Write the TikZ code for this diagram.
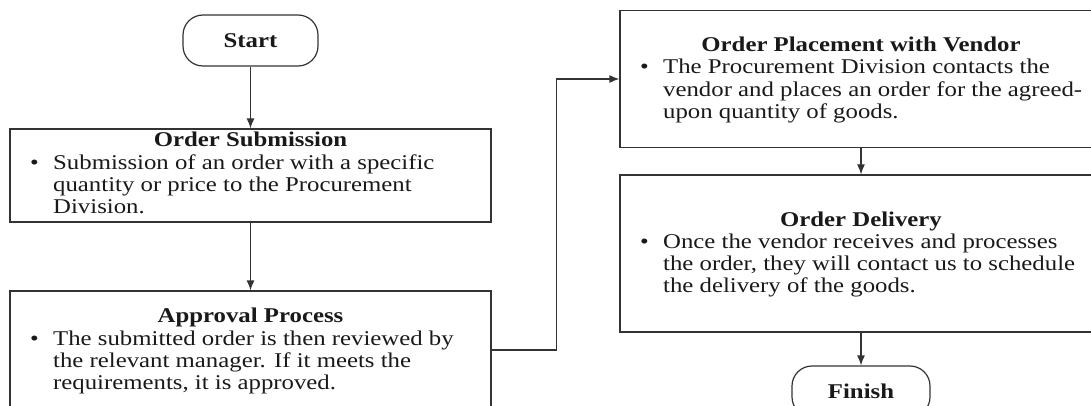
\documentclass[tikz,border=0pt]{standalone}
\usepackage{fontspec}
\setmainfont[FakeStretch=1.18]{Liberation Serif}
\usetikzlibrary{arrows.meta}
\usetikzlibrary{positioning}

\newcommand{\bulletpoint}[1]{\begin{tabular}[t]{@{}p{23pt}@{}l@{}}\textbullet & #1\end{tabular}}

\begin{document}
\begin{tikzpicture}[x=1pt, y=-1pt,
    every node/.style={font=\fontsize{21}{22.3}\selectfont, text=black!90},
    terminal/.style={draw=black!80, line width=1.2pt, rounded corners=20pt,
      minimum width=135pt, minimum height=51pt, inner sep=0pt,
      font=\fontsize{21}{22.3}\selectfont\bfseries},
    process/.style={draw=black!80, line width=1.2pt, rectangle, inner sep=0pt},
    heading/.style={anchor=base, inner sep=0pt,
      font=\fontsize{21}{22.3}\selectfont\bfseries},
    bullets/.style={anchor=base west, inner sep=0pt},
    arrow/.style={line width=1.2pt, draw=black!80, -{Latex[length=10pt,width=8pt]}},
    post/.style={arrow}
  ]
  \useasboundingbox (0,0) rectangle (1091,406);
  \clip (0,0) rectangle (1091,406);

  \node[terminal] (start) at (250.5,40.5) {Start};
  \node[process, minimum width=481pt, minimum height=93pt] (submission) at (250.5,175.5) {};
  \node[process, minimum width=481pt, minimum height=118pt] (approval) at (250.5,350) {};
  \node[process, minimum width=482pt, minimum height=137pt] (placement) at (861,79) {};
  \node[process, minimum width=482pt, minimum height=157pt] (delivery) at (861,253.5) {};
  \node[terminal, minimum width=138pt] (finish) at (861,391.5) {Finish};

  \node[heading] (submissiontitle) at (250.5,147) {Order Submission};
  \node[bullets] (submissiontext) at (30,169) {\bulletpoint{Submission of an order with a specific\\
    & quantity or price to the Procurement\\ & Division.}};

  \node[heading] (approvaltitle) at (250.5,322) {Approval Process};
  \node[bullets] (approvaltext) at (30,345) {\bulletpoint{The submitted order is then reviewed by\\
    & the relevant manager. If it meets the\\ & requirements, it is approved.}};

  \node[heading] (placementtitle) at (861,52) {Order Placement with Vendor};
  \node[bullets] (placementtext) at (640,74) {\bulletpoint{The Procurement Division contacts the\\
    & vendor and places an order for the agreed-\\ & upon quantity of goods.}};

  \node[heading] (deliverytitle) at (861,226) {Order Delivery};
  \node[bullets] (deliverytext) at (640,248) {\bulletpoint{Once the vendor receives and processes\\
    & the order, they will contact us to schedule\\ & the delivery of the goods.}};

  \draw[post] (start) -- (submission);
  \draw[post] (submission) -- (approval);
  \draw[post] (approval.east) -- ++(65,0) |- (placement.west);
  \draw[post] (placement) -- (delivery);
  \draw[post] (delivery) -- (finish);
\end{tikzpicture}
\end{document}
